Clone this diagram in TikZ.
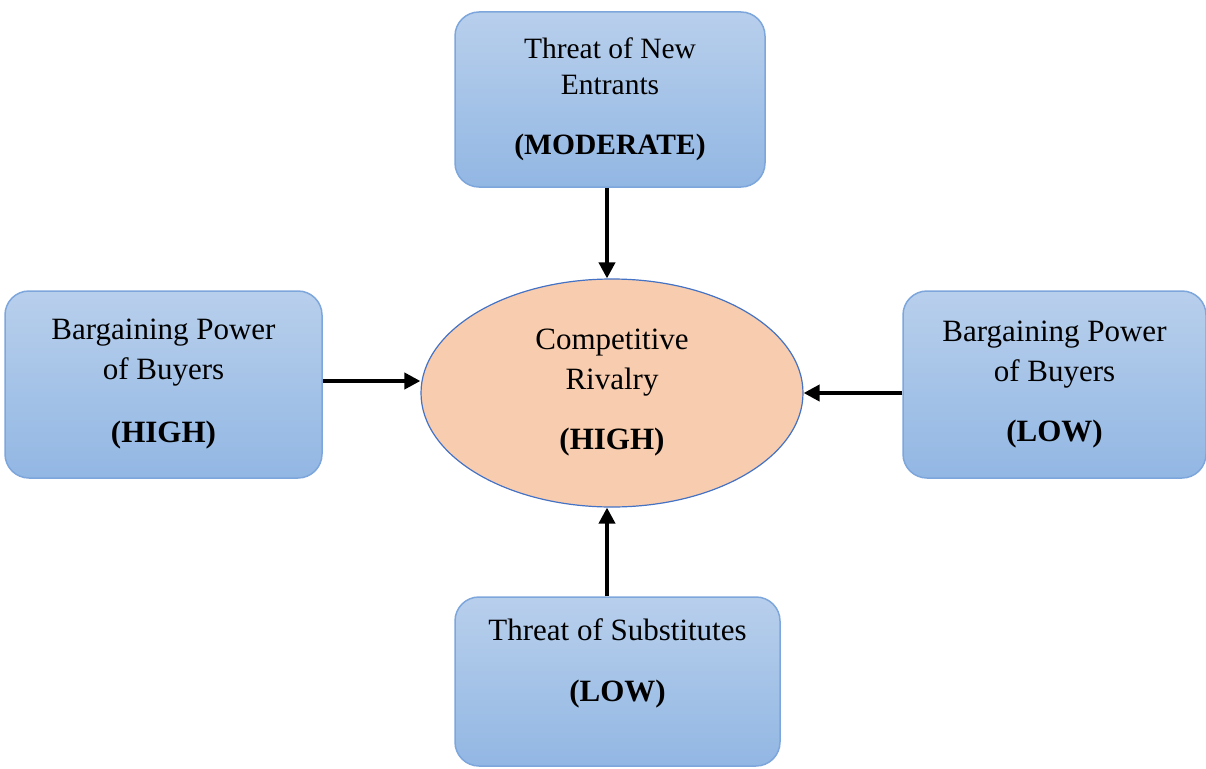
\documentclass[tikz,border=0pt]{standalone}
\usepackage{fontspec}
\setmainfont{Liberation Serif}
\usetikzlibrary{shapes.geometric,arrows.meta}
\definecolor{boxtop}{RGB}{184,207,236}
\definecolor{boxbot}{RGB}{146,183,227}
\definecolor{boxline}{RGB}{125,166,220}
\definecolor{ovfill}{RGB}{248,204,174}
\definecolor{ovline}{RGB}{68,114,196}
\tikzset{
  forcebox/.style={draw=boxline, line width=1.5pt, rounded corners=24pt,
    top color=boxtop, bottom color=boxbot, inner sep=0pt, align=center,
    font=\fontsize{31}{40}\selectfont},
  rivalry/.style={ellipse, draw=ovline, line width=1.2pt, fill=ovfill,
    inner sep=0pt, align=center, font=\fontsize{31}{40}\selectfont},
  arr/.style={line width=3.8pt, -{Triangle[length=16pt,width=16pt]}}
}
\begin{document}
\begin{tikzpicture}[x=1pt,y=-1pt]
\useasboundingbox (0,0) rectangle (1206,768);
\node[forcebox, minimum width=310pt, minimum height=175pt, font=\fontsize{29.5}{36}\selectfont]
  (top) at (610,99.5) {Threat of New\\Entrants\\[24pt]\textbf{(MODERATE)}};
\node[forcebox, minimum width=317pt, minimum height=187pt]
  (left) at (163.5,384.5) {Bargaining Power\\of Buyers\\[23pt]\textbf{(HIGH)}};
\node[forcebox, minimum width=303pt, minimum height=187pt]
  (right) at (1054.5,384.5) {Bargaining Power\\of Buyers\\[20pt]\textbf{(LOW)}};
\node[forcebox, minimum width=325pt, minimum height=169pt]
  (bot) at (617.5,681.5) {Threat of Substitutes\\[21pt]\textbf{(LOW)}\\[-10pt]\strut};
\node[rivalry, minimum width=382pt, minimum height=228pt]
  (riv) at (612,393) {Competitive\\Rivalry\\[20pt]\textbf{(HIGH)}};
\draw[arr] ([xshift=-3pt]top.south) -- ([xshift=-5pt]riv.north);
\draw[arr] ([yshift=3.5pt]left.east) -- ([yshift=3.5pt]left.east -| riv.west);
\draw[arr] (right.west |- riv.east) -- (riv.east);
\draw[arr] ([xshift=-10.5pt]bot.north) -- ([xshift=-5pt]riv.south);
\end{tikzpicture}
\end{document}
